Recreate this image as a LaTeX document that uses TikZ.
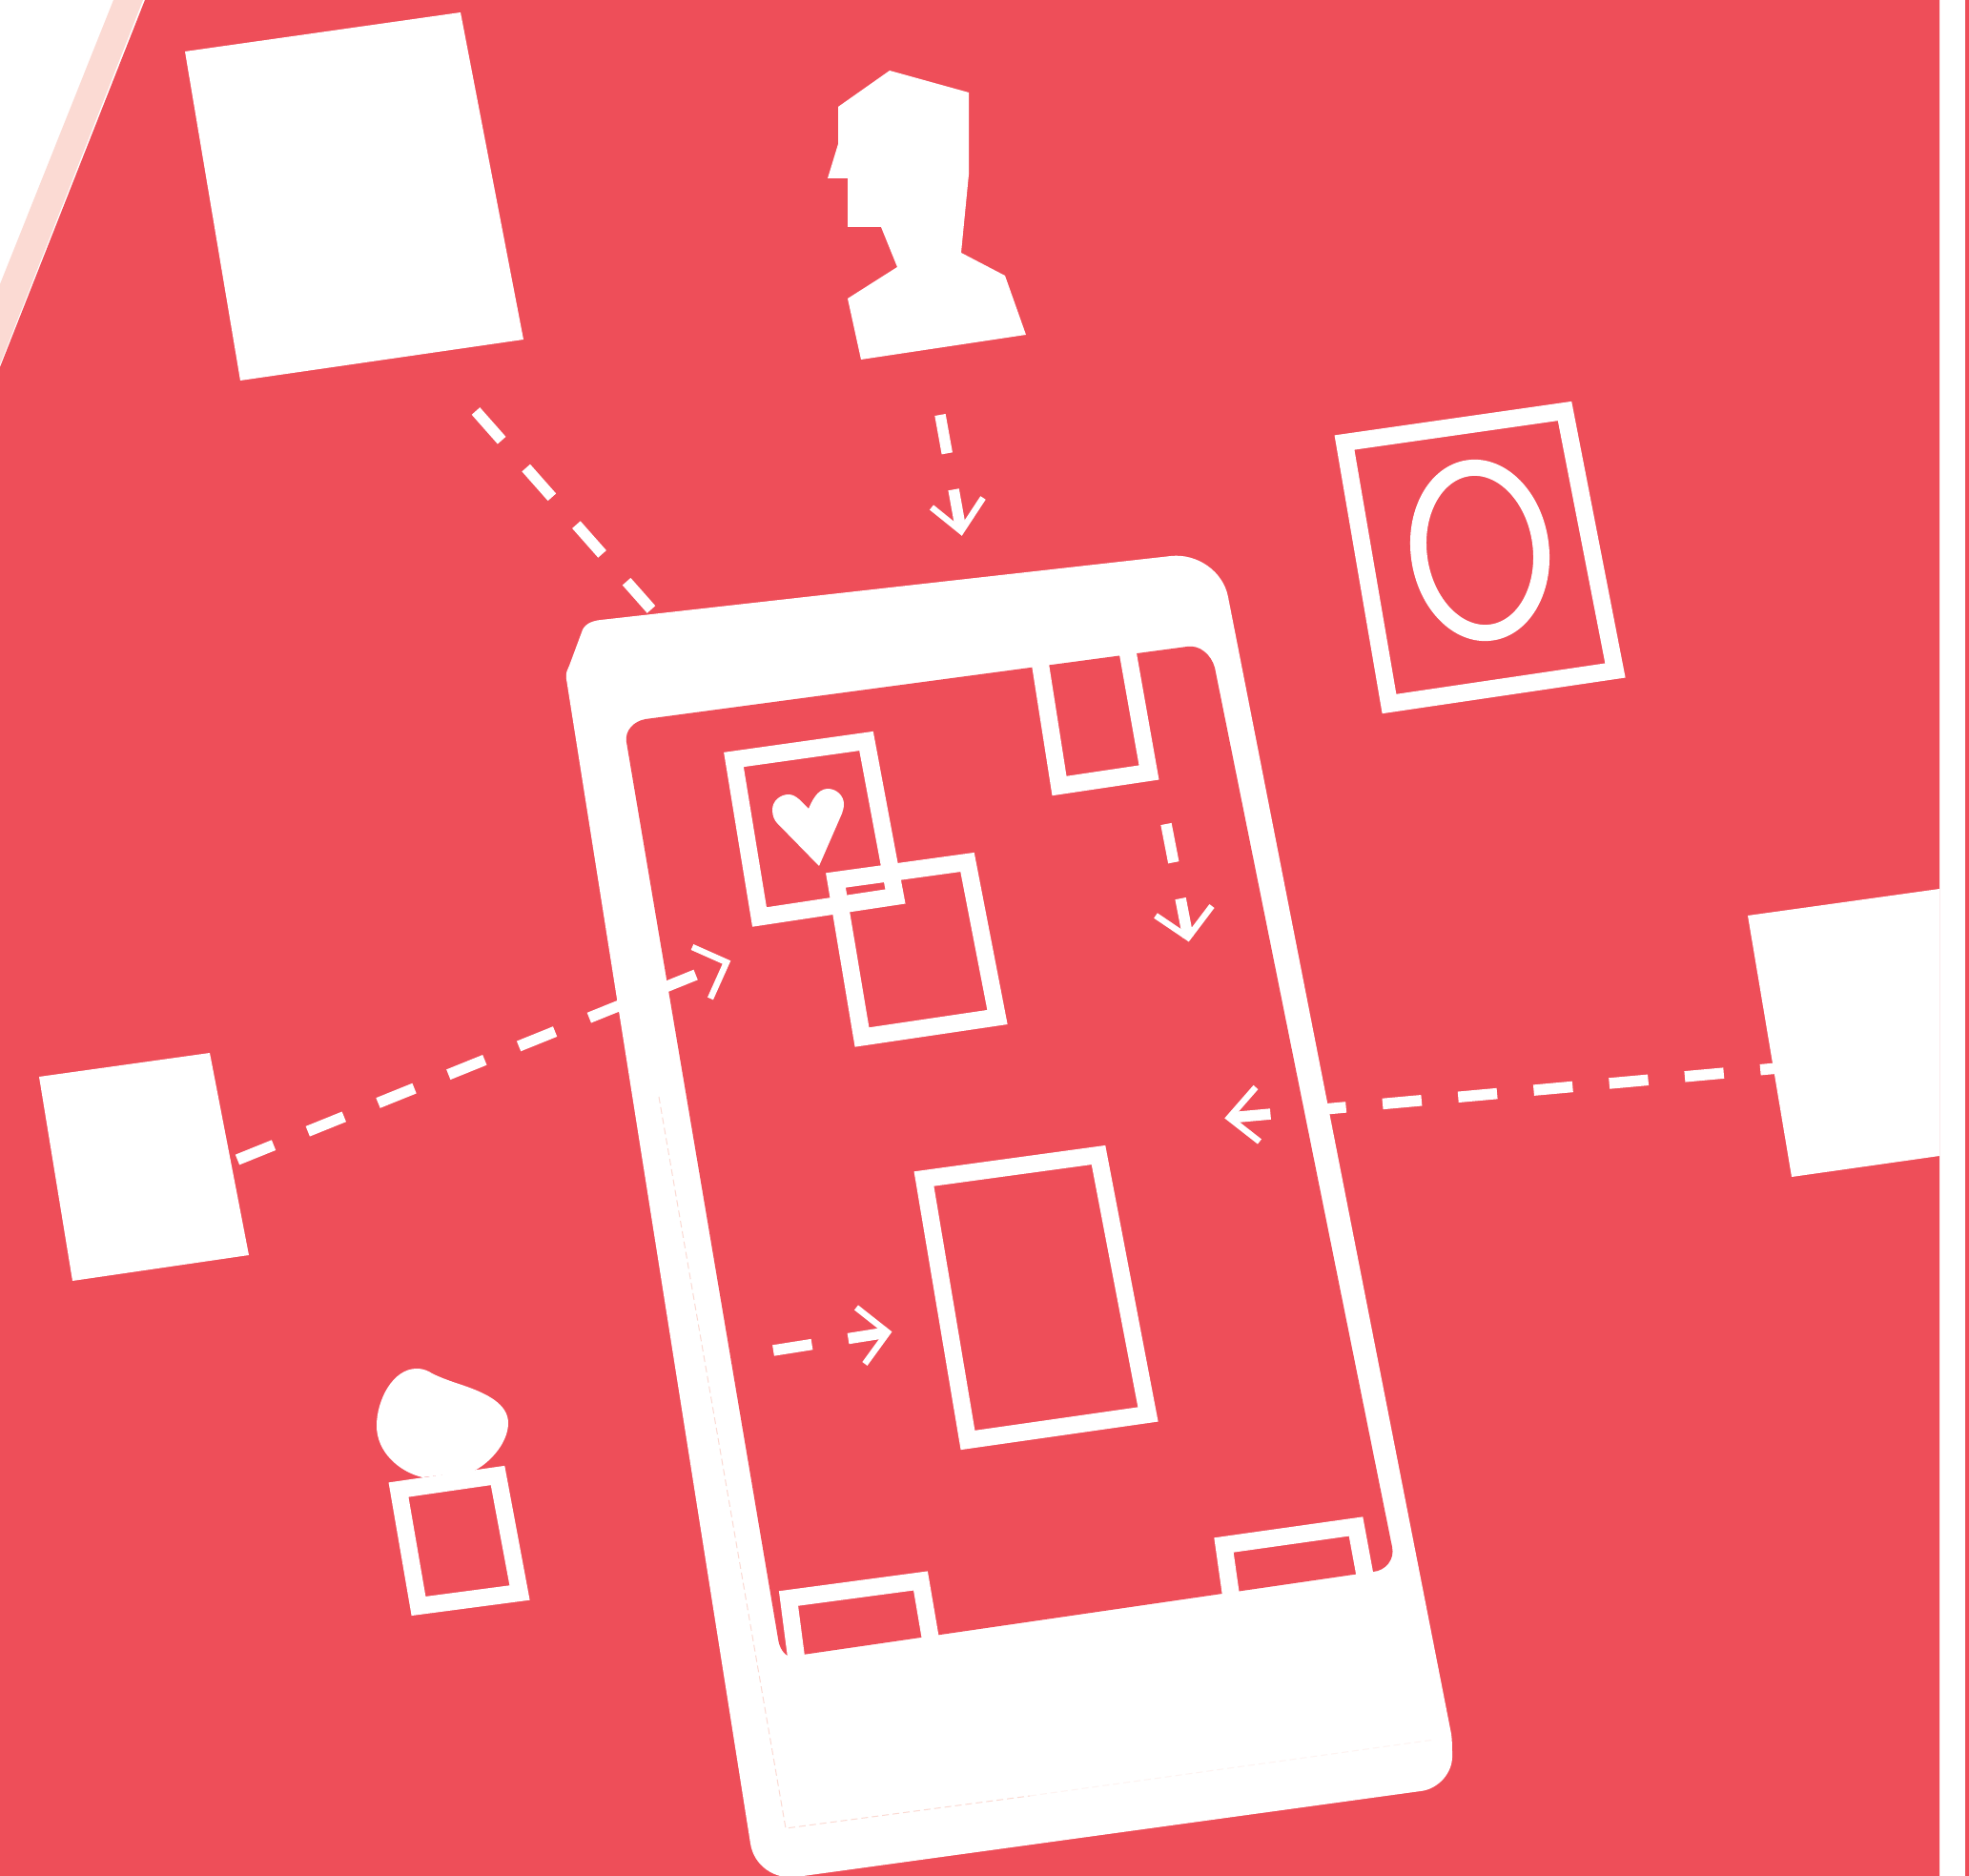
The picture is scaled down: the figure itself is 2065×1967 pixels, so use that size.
\documentclass[tikz,border=0pt]{standalone}
\usepackage{xcolor}
\definecolor{MainRed}{HTML}{EE4E59}
\definecolor{SoftPink}{HTML}{FBDAD3}
\definecolor{FaintPink}{HTML}{FEF3F1}
\begin{document}
\begin{tikzpicture}[x=.01cm,y=-.01cm,
  solidbox/.style={fill=white},
  framebox/.style={draw=white,line width=.18cm,miter limit=10},
  flowline/.style={draw=white,line width=.115cm,dash pattern=on .41cm off .385cm},
  headline/.style={draw=white,line width=.065cm}]
\useasboundingbox (0,0) rectangle (2065,1967);
\clip (0,0) rectangle (2065,1967);
\fill[white] (0,0) rectangle (2065,1967);
\fill[SoftPink] (119,0) -- (150,0) -- (0,382) -- (0,298) -- cycle;
\fill[MainRed] (152,0) -- (2034,0) -- (2034,1967) -- (0,1967) -- (0,385) -- cycle;
\fill[MainRed] (2061,0) rectangle (2065,1967);
\fill[solidbox] (194,54) -- (483,13) -- (549,356) -- (252,399) -- cycle;
\fill[solidbox] (41,1129) -- (220,1104) -- (261,1316) -- (76,1343) -- cycle;
\fill[solidbox] (1833,960) -- (2034,932) -- (2034,1212) -- (1879,1234) -- cycle;
\fill[solidbox] (933,74) -- (1016,97) -- (1016,183) -- (1008,265) -- (1054,289) -- (1076,351) -- (903,377) -- (889,313) -- (941,280) -- (924,238) -- (889,238) -- (889,187) -- (868,187) -- (879,151) -- (879,112) -- cycle;
\fill[solidbox] (437,1435) .. controls (445,1435) and (450,1438) .. (453,1440) .. controls (463,1445) and (475,1449) .. (487,1453) .. controls (510,1461) and (533,1472) .. (533,1492) .. controls (533,1515) and (510,1537) .. (495,1543) -- (443,1549) .. controls (418,1543) and (395,1522) .. (395,1495) .. controls (395,1468) and (412,1435) .. (437,1435) -- cycle;
\draw[framebox] (1410,464) -- (1641,431) -- (1694,703) -- (1457,738) -- cycle;
\draw[draw=white,line width=.17cm,rotate around={8:(1552,577)}] (1552,577) ellipse (64 and 87);
\draw[framebox] (418,1562) -- (522,1547) -- (545,1670) -- (439,1684) -- cycle;
\fill[solidbox] (630,650) -- (1228,583) .. controls (1255.5,580) and (1283,599) .. (1288,626) -- (1522,1818) .. controls (1523,1825) and (1523,1832) .. (1523,1840) .. controls (1524,1859) and (1508,1876) .. (1490,1878) -- (835,1968) .. controls (812,1971) and (790.6,1956) .. (787,1933) -- (594,712) .. controls (593,705) and (595,703) .. (597,698) -- (610,663) .. controls (612,655) and (620,651) .. (630,650) -- cycle;
\fill[MainRed] (677,754) -- (1245,678) .. controls (1258,676) and (1270,686) .. (1274,700) -- (1460,1622) .. controls (1463,1635) and (1453,1647) .. (1440,1648) -- (828,1737) .. controls (822,1735) and (817,1727) .. (816,1718) -- (657,778) .. controls (655,766) and (665,756) .. (677,754) -- cycle;
\draw[SoftPink,line width=.01cm,dash pattern=on .07cm off .04cm] (691,1150) -- (824,1917) -- (1080,1883);
\draw[FaintPink,line width=.01cm,dash pattern=on .07cm off .04cm] (1080,1883) -- (1505,1824);
\draw[framebox] (1090,690) -- (1111,824) -- (1205,810) -- (1182,680);
\draw[framebox] (769.5,796.5) -- (908.5,777) -- (939,940) -- (796.5,961.5) -- cycle;
\draw[framebox] (876.5,923) -- (1014.5,904) -- (1046,1066.5) -- (904,1087.5) -- cycle;
\draw[framebox] (969,1236) -- (1152,1211) -- (1204,1483) -- (1015,1510) -- cycle;
\draw[framebox] (836,1745) -- (827,1676) -- (965.5,1657.5) -- (977,1725);
\draw[framebox] (1292,1680) -- (1283.5,1620) -- (1422,1600.5) -- (1433,1660);
\fill[solidbox] (859,908) -- (815,863) .. controls (812,860) and (810,855) .. (810,849) .. controls (810,840) and (818,833) .. (827,833) .. controls (835,833) and (841,841) .. (848,848) .. controls (851,841) and (857,827) .. (868,827) .. controls (878,827) and (885,835) .. (885,843) .. controls (885,847) and (884,850) .. (883,853) -- cycle;
\coordinate (squareEnd) at (499,431);
\coordinate (phoneTop) at (683,639);
\coordinate (personEnd) at (986,435);
\coordinate (personTip) at (1008,557);
\coordinate (personL) at (977,532);
\coordinate (personR) at (1031,522);
\coordinate (notchEnd) at (1223,864);
\coordinate (notchTip) at (1246,983);
\coordinate (notchL) at (1212,960);
\coordinate (notchR) at (1271,950);
\coordinate (leftEnd) at (249,1216);
\coordinate (leftTip) at (762,1009);
\coordinate (leftL) at (726,993);
\coordinate (leftR) at (745,1047);
\coordinate (rightEnd) at (1887,1118);
\coordinate (rightTip) at (1289,1172);
\coordinate (rightL) at (1317,1140);
\coordinate (rightR) at (1321,1197);
\coordinate (midEnd) at (811,1416);
\coordinate (midTip) at (931,1397);
\coordinate (midL) at (898,1371);
\coordinate (midR) at (907,1430);
\draw[flowline] (squareEnd) -- (phoneTop);
\draw[flowline] (personEnd) -- (personTip);
\draw[headline] (personL) -- (personTip) -- (personR);
\draw[flowline] (notchEnd) -- (notchTip);
\draw[headline] (notchL) -- (notchTip) -- (notchR);
\draw[flowline] (leftEnd) -- (leftTip);
\draw[headline] (leftL) -- (leftTip) -- (leftR);
\draw[flowline] (rightEnd) -- (rightTip);
\draw[headline] (rightL) -- (rightTip) -- (rightR);
\draw[flowline] (midEnd) -- (midTip);
\draw[headline] (midL) -- (midTip) -- (midR);
\end{tikzpicture}
\end{document}
